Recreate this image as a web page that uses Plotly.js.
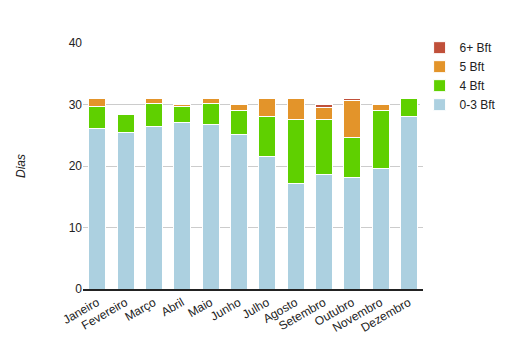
<!DOCTYPE html>
<html>
<head>
<meta charset="utf-8">
<script src="https://cdn.plot.ly/plotly-3.0.1.min.js"></script>
<style>html,body{margin:0;padding:0;background:#fff;}#chart{width:523px;height:355px;}</style>
</head>
<body>
<div id="chart"></div>
<script>
const months = ["Janeiro","Fevereiro","Março","Abril","Maio","Junho","Julho","Agosto","Setembro","Outubro","Novembro","Dezembro"];
const bft03 = [26.1, 25.4, 26.4, 27.1, 26.7, 25.1, 21.5, 17.1, 18.6, 18.1, 19.6, 28.0];
const bft4  = [3.6, 2.9, 3.7, 2.5, 3.4, 3.9, 6.5, 10.5, 9.0, 6.5, 9.4, 3.0];
const bft5  = [1.3, 0, 0.9, 0.4, 0.9, 1.0, 3.0, 3.4, 1.9, 6.0, 1.0, 0];
const bft6  = [0, 0, 0, 0, 0, 0, 0, 0, 0.5, 0.4, 0, 0];
const seriesNames = ["0-3 Bft", "4 Bft", "5 Bft", "6+ Bft"];
const colors = ["#acd0e0", "#5fd000", "#e3942a", "#c0503a"];
const series = [bft03, bft4, bft5, bft6];

const traces = series.map((vals, i) => ({
  type: "bar",
  name: seriesNames[i],
  x: months,
  y: vals,
  marker: {color: colors[i], line: {color: "#ffffff", width: 1}},
  hoverinfo: "x+y+name"
}));

const layout = {
  width: 523, height: 355,
  margin: {l: 83, r: 100, t: 43, b: 66},
  barmode: "stack",
  bargap: 0.4,
  paper_bgcolor: "#fff",
  plot_bgcolor: "#fff",
  font: {family: "Liberation Sans, Arial, sans-serif", size: 12, color: "#222"},
  xaxis: {
    tickangle: -30,
    showline: true, linecolor: "#222", linewidth: 2,
    ticks: "", showgrid: false,
    tickfont: {size: 12, color: "#222"}
  },
  yaxis: {
    range: [0, 40],
    dtick: 10,
    showgrid: true, gridcolor: "#cccccc", gridwidth: 1,
    zeroline: false,
    showline: false,
    ticks: "",
    ticklen: 0,
    tickfont: {size: 12, color: "#222"},
    title: {text: "Dias", font: {size: 12, color: "#222", style: "italic"}, standoff: 40}
  },
  legend: {
    x: 0.99, y: 1.04, xanchor: "left", yanchor: "top",
    traceorder: "reversed",
    font: {size: 12, color: "#222"},
    itemwidth: 30,
    tracegroupgap: 0
  },
  showlegend: true
};

Plotly.newPlot("chart", traces, layout, {displayModeBar: false, staticPlot: true});
</script>
</body>
</html>
